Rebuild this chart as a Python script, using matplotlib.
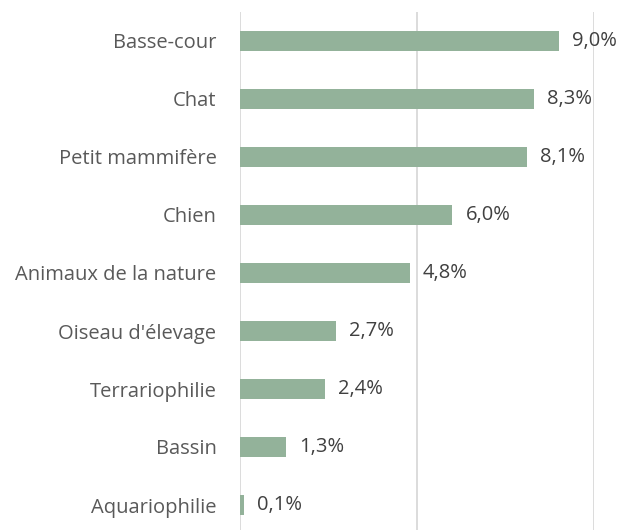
import matplotlib.pyplot as plt

categories = ["Basse-cour", "Chat", "Petit mammifère", "Chien", "Animaux de la nature",
              "Oiseau d'élevage", "Terrariophilie", "Bassin", "Aquariophilie"]
values = [9.0, 8.3, 8.1, 6.0, 4.8, 2.7, 2.4, 1.3, 0.1]

plt.rcParams['font.family'] = ['Open Sans', 'DejaVu Sans']

fig = plt.figure(figsize=(6.22, 5.30), dpi=100)
ax = fig.add_axes([240 / 622, -4 / 530, 354 / 622, 522 / 530])

y = list(range(len(categories)))
ax.barh(y, values, height=0.345, color='#93b29a', zorder=3)
for yi, v in zip(y, values):
    ax.text(v + 0.37, yi, f"{v:.1f}%".replace('.', ','), va='center', ha='left',
            fontsize=14.5, color='#404040', zorder=4)

ax.set_xlim(0, 10)
ax.set_ylim(len(categories) - 0.5, -0.5)
ax.set_xticks([0, 5, 10])
ax.set_xticklabels([])
ax.tick_params(axis='x', length=0)
ax.set_yticks(y)
ax.set_yticklabels(categories, fontsize=14.5, color='#595959')
ax.tick_params(axis='y', length=0, pad=17)
ax.grid(axis='x', color='#d9d9d9', linewidth=1.3, zorder=0)
for s in ax.spines.values():
    s.set_visible(False)

fig.savefig('out.png', dpi=100)
